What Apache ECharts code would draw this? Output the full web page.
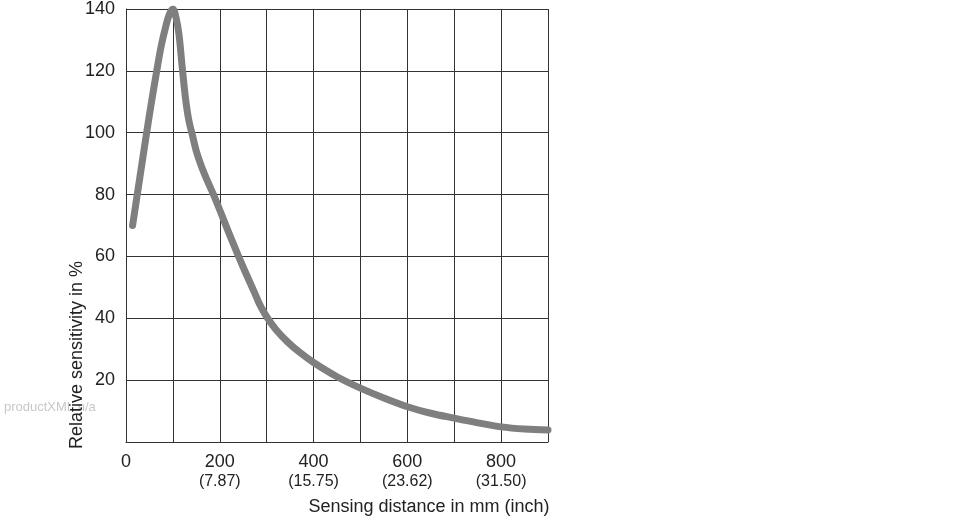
<!DOCTYPE html>
<html><head><meta charset="utf-8">
<script src="https://cdn.jsdelivr.net/npm/echarts@6/dist/echarts.min.js"></script>
<style>html,body{margin:0;padding:0;background:#fff}#c{width:970px;height:520px}</style>
</head><body><div id="c"></div>
<script>
// distance in mm, relative sensitivity in %
const distance = [14, 24, 34, 44, 55, 65, 75, 85, 93, 100, 107, 113, 120, 127, 134, 142, 150, 160, 172, 188, 200, 225, 250, 275, 285, 300, 320, 345, 371, 400, 450, 500, 550, 600, 650, 700, 750, 800, 850, 900];
const sensitivity = [70, 80, 90, 100, 110.5, 119.5, 128, 134.5, 138.5, 140, 137, 131.8, 121, 111, 104, 99, 94, 89.5, 85, 79.5, 75, 65.5, 56.5, 48, 44.5, 40.5, 36.3, 32.3, 28.9, 25.7, 21.1, 17.4, 14.2, 11.4, 9.3, 7.7, 6.2, 4.9, 4.2, 3.9];
const xTicks = [0, 200, 400, 600, 800];
const inchLabels = {200: '(7.87)', 400: '(15.75)', 600: '(23.62)', 800: '(31.50)'};
const yTicks = [20, 40, 60, 80, 100, 120, 140];

const font = '"Liberation Sans", Arial, sans-serif';
const chart = echarts.init(document.getElementById('c'), null, {renderer: 'canvas'});
chart.setOption({
  animation: false,
  grid: {left: 126, right: 422, top: 8, bottom: 78},
  xAxis: {
    type: 'value', min: 0, max: 900, interval: 100,
    axisLine: {show: true, lineStyle: {color: '#333', width: 1}},
    axisTick: {show: false},
    splitLine: {show: true, lineStyle: {color: '#333', width: 1}},
    axisLabel: {
      margin: 10, color: '#222', fontFamily: font, showMaxLabel: false,
      formatter: function (v) {
        if (xTicks.indexOf(v) < 0) return '';
        return inchLabels[v] ? '{a|' + v + '}\n{b|' + inchLabels[v] + '}' : '{a|' + v + '}';
      },
      rich: {
        a: {fontSize: 18, color: '#222', fontFamily: font, lineHeight: 20},
        b: {fontSize: 16, color: '#222', fontFamily: font, lineHeight: 19}
      }
    }
  },
  yAxis: {
    type: 'value', min: 0, max: 140, interval: 20,
    axisLine: {show: true, lineStyle: {color: '#333', width: 1}},
    axisTick: {show: false},
    splitLine: {show: true, lineStyle: {color: '#333', width: 1}},
    axisLabel: {
      margin: 11, fontSize: 18, color: '#222', fontFamily: font,
      formatter: function (v) { return yTicks.indexOf(v) >= 0 ? String(v) : ''; }
    }
  },
  graphic: [
    {type: 'text', left: 4, top: 401, z: 0, style: {text: 'productXML n/a', fill: '#c8c8c8', fontSize: 13, fontFamily: font}},
    {type: 'text', x: 77, y: 355, rotation: Math.PI / 2, style: {text: 'Relative sensitivity in %', fill: '#222', fontSize: 18, fontFamily: font, align: 'center', verticalAlign: 'middle'}},
    {type: 'text', x: 429, y: 507, style: {text: 'Sensing distance in mm (inch)', fill: '#222', fontSize: 18, fontFamily: font, align: 'center', verticalAlign: 'middle'}}
  ],
  series: [{
    type: 'line',
    data: distance.map((d, i) => [d, sensitivity[i]]),
    smooth: 0.35,
    symbol: 'none',
    lineStyle: {color: '#7f7f7f', width: 7, cap: 'round', join: 'round'},
    z: 5
  }]
});
</script></body></html>
